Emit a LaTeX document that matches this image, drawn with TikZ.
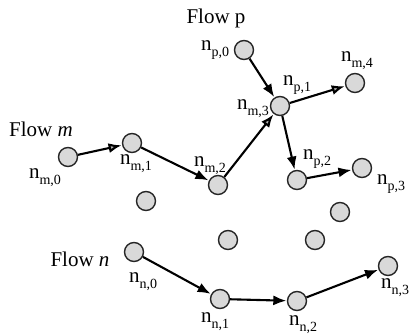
\documentclass[tikz,border=0pt]{standalone}
\usepackage{fontspec}
\setmainfont{Liberation Serif}
\usetikzlibrary{arrows.meta}
\newcommand{\nlab}[1]{{\fontsize{21}{21}\selectfont n\raisebox{-0.28em}{\fontsize{14}{14}\selectfont #1}}}
\tikzset{
  nd/.style={circle, draw=black!85, line width=1.4pt, fill=gray!30, minimum size=19pt, inner sep=0pt},
  lb/.style={inner sep=0pt, font=\fontsize{21}{21}\selectfont},
  fl/.style={inner sep=0pt, font=\fontsize{21}{21}\selectfont},
  ar/.style={line width=2.1pt, -{Latex[length=13pt,width=10pt]}, shorten >=0.5pt},
  arg/.style={ar, -{Latex[length=13pt,width=10pt,fill=gray!60]}}
}
\begin{document}
\begin{tikzpicture}[x=1pt,y=-1pt]
\useasboundingbox (0,0) rectangle (412,334);
% nodes
\node[nd] (np0) at (244,50) {};
\node[nd] (nm3) at (280,106) {};
\node[nd] (nm4) at (355,83) {};
\node[nd] (nm0) at (68,157) {};
\node[nd] (nm1) at (132,143) {};
\node[nd] (nm2) at (218,185) {};
\node[nd] (np2) at (297,180) {};
\node[nd] (np3) at (362,168) {};
\node[nd] (i1) at (146,201) {};
\node[nd] (i2) at (340,212) {};
\node[nd] (i3) at (228,240) {};
\node[nd] (i4) at (315,240) {};
\node[nd] (nn0) at (134,252) {};
\node[nd] (nn1) at (220,299) {};
\node[nd] (nn2) at (297,301) {};
\node[nd] (nn3) at (388,266) {};
% flow labels
\node[fl] (fp) at (216,18) {Flow p};
\node[fl] (fm) at (41,129) {Flow \textit{m}};
\node[fl] (fn) at (80,259) {Flow \textit{n}};
% node labels
\node[lb] (lp0) at (215,50) {\nlab{p,0}};
\node[lb] (lm4) at (357,61) {\nlab{m,4}};
\node[lb] (lp1) at (297,85) {\nlab{p,1}};
\node[lb] (lm3) at (253,109) {\nlab{m,3}};
\node[lb] (lm0) at (45,178) {\nlab{m,0}};
\node[lb] (lm1) at (136,164) {\nlab{m,1}};
\node[lb] (lm2) at (210,166) {\nlab{m,2}};
\node[lb] (lp2) at (317,159) {\nlab{p,2}};
\node[lb] (lp3) at (391,184) {\nlab{p,3}};
\node[lb] (ln0) at (143,282) {\nlab{n,0}};
\node[lb] (ln1) at (215,322) {\nlab{n,1}};
\node[lb] (ln2) at (303,325) {\nlab{n,2}};
\node[lb] (ln3) at (395,288) {\nlab{n,3}};
% arrows
\draw[arg] (nm0) -- (nm1);
\draw[ar] (nm1) -- (nm2);
\draw[arg] (nm2) -- (nm3);
\draw[ar] (np0) -- (nm3);
\draw[arg] (nm3) -- (nm4);
\draw[ar] (nm3) -- (np2);
\draw[ar] (np2) -- (np3);
\draw[ar] (nn0) -- (nn1);
\draw[ar] (nn1) -- (nn2);
\draw[ar] (nn2) -- (nn3);
\end{tikzpicture}
\end{document}
